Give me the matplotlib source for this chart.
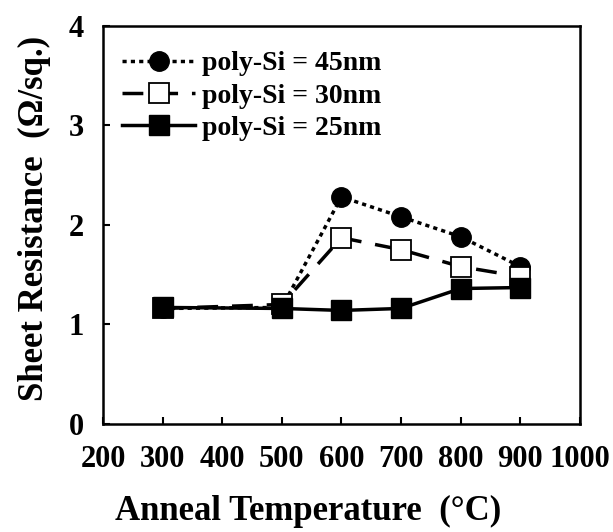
import matplotlib.pyplot as plt

# anneal temperature (C)
temps = [300, 500, 600, 700, 800, 900]

# sheet resistance (ohm/sq) for each poly-Si thickness
rs_45nm = [1.16, 1.17, 2.28, 2.08, 1.88, 1.58]
rs_30nm = [1.16, 1.20, 1.87, 1.75, 1.58, 1.48]
rs_25nm = [1.17, 1.16, 1.14, 1.16, 1.36, 1.37]

labels = ['poly-Si = 45nm', 'poly-Si = 30nm', 'poly-Si = 25nm']

plt.rcParams['font.family'] = ['Liberation Serif', 'DejaVu Serif']
plt.rcParams['font.weight'] = 'bold'

fig = plt.figure(figsize=(6.13, 5.32), dpi=100)
ax = fig.add_axes([0.168, 0.203, 0.778, 0.749])

# Plotting
ax.plot(temps, rs_45nm, linestyle=(0, (1.2, 1.2)), color='black', linewidth=2.5,
        marker='o', markersize=14, markerfacecolor='black', label=labels[0], zorder=3)
ax.plot(temps, rs_30nm, linestyle=(0, (6, 4)), color='black', linewidth=2.5,
        marker='s', markersize=14, markerfacecolor='white', markeredgewidth=1.3,
        label=labels[1], zorder=4)
ax.plot(temps, rs_25nm, linestyle='-', color='black', linewidth=2.5,
        marker='s', markersize=14, markerfacecolor='black', label=labels[2], zorder=5)

ax.set_xlim(200, 1000)
ax.set_ylim(0, 4)
ax.set_xticks(range(200, 1001, 100))
ax.set_yticks([0, 1, 2, 3, 4])
ax.tick_params(direction='in', length=5, width=1.5, labelsize=22, pad=15,
               top=False, right=False)
ax.tick_params(axis='y', pad=14)
for s in ax.spines.values():
    s.set_linewidth(1.8)

ax.set_xlabel('Anneal Temperature  (°C)', fontsize=25, fontweight='bold')
ax.set_ylabel('Sheet Resistance  (Ω/sq.)', fontsize=25, fontweight='bold')
ax.xaxis.set_label_coords(0.43, -0.178)
ax.yaxis.set_label_coords(-0.108, 0.515)

leg = ax.legend(loc='upper left', bbox_to_anchor=(0.0, 0.985), frameon=False,
                handlelength=2.6, handletextpad=0.25, labelspacing=0.25,
                borderaxespad=0.3, prop={'weight': 'bold', 'size': 20})

fig.savefig('out.png', dpi=100)
